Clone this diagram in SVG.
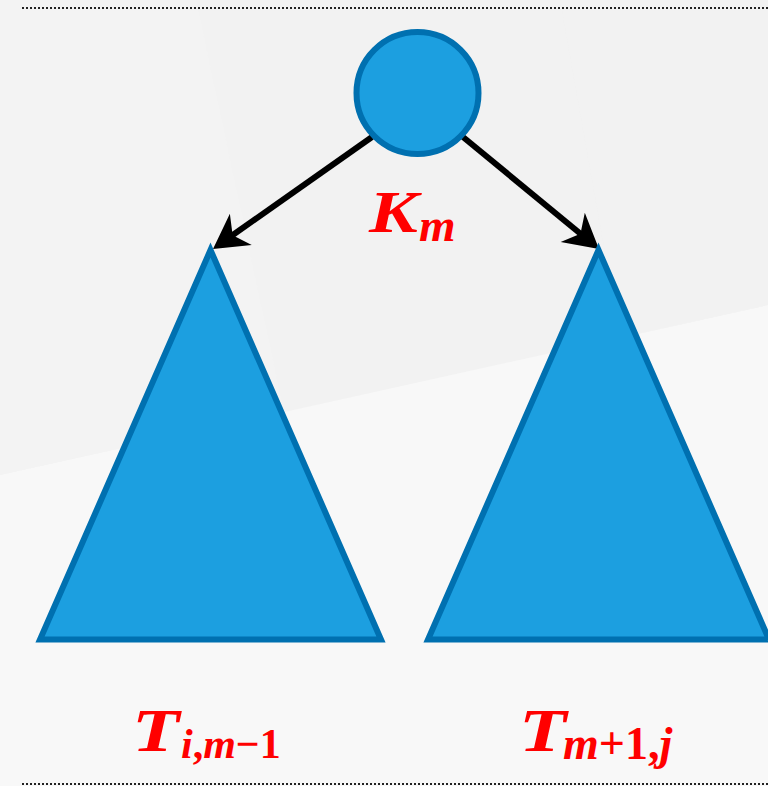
<svg xmlns="http://www.w3.org/2000/svg" width="768" height="786" viewBox="0 0 768 786">
  <defs>
    <style>
      .node { fill: #1c9fe0; stroke: #0070b0; stroke-width: 6; stroke-linejoin: miter; }
      .edge { stroke: #000; stroke-width: 6; fill: none; marker-end: url(#arrow); }
      .dots { stroke: #222; stroke-width: 2; stroke-dasharray: 2 2; }
      .lbl { font-family: "Liberation Serif", "DejaVu Serif", serif; font-weight: bold; font-style: italic; fill: #ff0000; }
      .up { font-style: normal; }
    </style>
    <marker id="arrow" markerUnits="userSpaceOnUse" markerWidth="60" markerHeight="60" refX="0" refY="0" orient="auto" overflow="visible" viewBox="-30 -30 60 60">
      <path d="M22,0 L-12,-19 L-2,0 L-12,19 Z" fill="#000"/>
    </marker>
  </defs>

  <g id="background">
    <rect x="0" y="0" width="768" height="786" fill="#f8f8f8"/>
    <polygon points="0,0 768,0 768,305 0,475" fill="#f2f2f2"/>
    <polygon points="0,0 196,0 284,412 0,475" fill="#f3f3f3"/>
    <polygon points="560,0 768,0 768,305 620,338" fill="#f1f1f1" opacity="0.6"/>
    <line class="dots" x1="22" y1="8" x2="768" y2="8"/>
    <line class="dots" x1="22" y1="784" x2="768" y2="784"/>
  </g>

  <g id="connectors">
    <line class="edge" x1="372" y1="137" x2="231" y2="236.3"/>
    <line class="edge" x1="463" y1="137" x2="582" y2="235"/>
  </g>

  <g id="node-root">
    <circle class="node" cx="417.5" cy="93" r="61"/>
    <text class="lbl" font-size="60" transform="translate(369,232) scale(1.22,1)">K</text>
    <text class="lbl" x="419" y="241" font-size="47">m</text>
  </g>

  <g id="node-left">
    <polygon class="node" points="210.5,250 40,639.5 381,639.5"/>
    <text class="lbl" font-size="61" transform="translate(132,751) scale(1.27,1)">T</text>
    <text class="lbl" x="181" y="758" font-size="42">i<tspan class="up">,</tspan>m<tspan class="up">−1</tspan></text>
  </g>

  <g id="node-right">
    <polygon class="node" points="598.5,250 428,639.5 769,639.5"/>
    <text class="lbl" font-size="61" transform="translate(519,751) scale(1.27,1)">T</text>
    <text class="lbl" x="563" y="759" font-size="46">m<tspan class="up">+1,</tspan>j</text>
  </g>
</svg>
